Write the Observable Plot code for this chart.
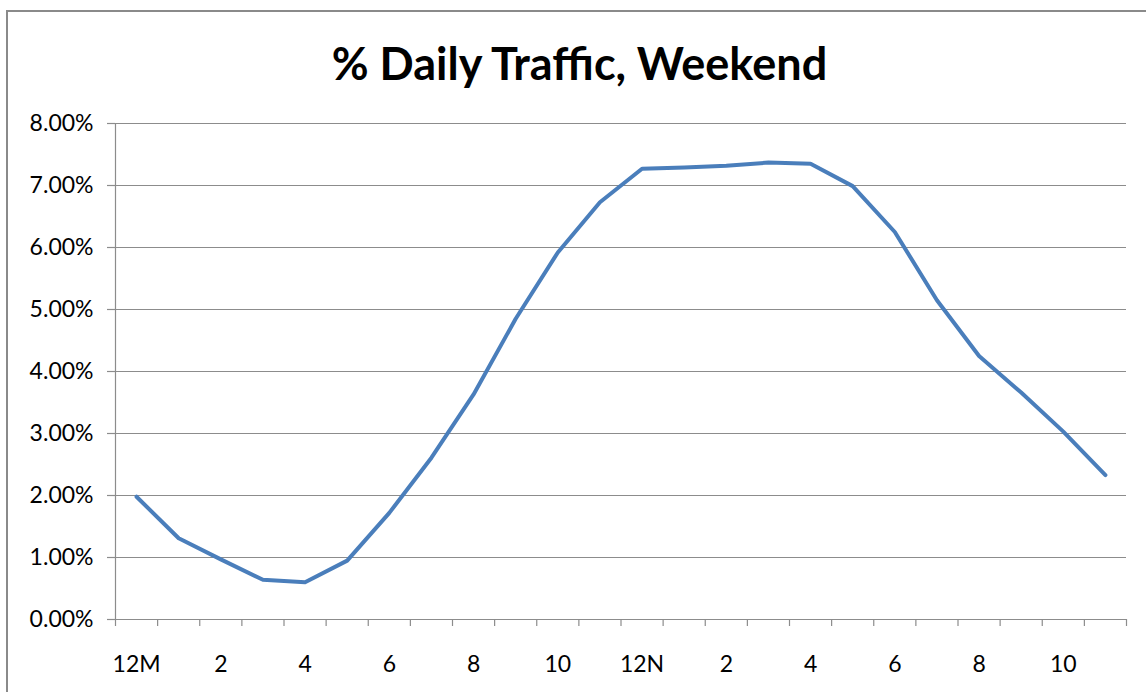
<!DOCTYPE html>
<html>
<head>
<meta charset="utf-8">
<script src="https://cdn.jsdelivr.net/npm/d3@7"></script>
<script src="https://cdn.jsdelivr.net/npm/@observablehq/plot@0.6"></script>
<style>
  html, body { margin: 0; padding: 0; background: #fff; width: 1146px; height: 692px; overflow: hidden; }
  #frame { position: absolute; left: 6px; top: 10px; width: 1160px; height: 700px; border: 2px solid #8a8a8a; box-sizing: border-box; z-index: 2; pointer-events: none; }
  #title { position: absolute; left: 0; top: 37px; width: 1159px; text-align: center; font-family: Lato, "Open Sans", sans-serif; font-weight: bold; font-size: 45px; line-height: 52px; color: #000; }
  #chart { position: absolute; left: 0; top: 100px; }
</style>
</head>
<body>
<div id="frame"></div>
<div id="title">% Daily Traffic, Weekend</div>
<div id="chart"></div>
<script>
const hours = d3.range(0, 24);
const hourLabels = ["12M","1","2","3","4","5","6","7","8","9","10","11","12N","1","2","3","4","5","6","7","8","9","10","11"];
const trafficShare = [0.0198, 0.0131, 0.0097, 0.0064, 0.0060, 0.0095, 0.0172, 0.0261, 0.0363, 0.0485, 0.0592, 0.0673,
                      0.0727, 0.0729, 0.0732, 0.0737, 0.0735, 0.0699, 0.0625, 0.0515, 0.0425, 0.0366, 0.0303, 0.0233];
const yTicks = [0, 0.01, 0.02, 0.03, 0.04, 0.05, 0.06, 0.07, 0.08];

const data = hours.map((h, i) => ({hour: h, label: hourLabels[i], value: trafficShare[i]}));
const labelled = data.filter(d => d.hour % 2 === 0);

const gridColor = "#8c8c8c";
const font = "Lato, 'Open Sans', sans-serif";

const chart = Plot.plot({
  width: 1146,
  height: 592,
  marginTop: 23,
  marginBottom: 73,
  marginLeft: 115,
  marginRight: 20,
  style: {fontFamily: font, fontSize: "23px", color: "#000", background: "transparent"},
  x: {type: "linear", domain: [0, 24], axis: null},
  y: {domain: [0, 0.08], axis: null},
  marks: [
    Plot.gridY(yTicks, {stroke: gridColor, strokeOpacity: 1, strokeWidth: 1.2}),
    Plot.axisY(yTicks, {label: null, tickSize: 8, tickPadding: 14, stroke: gridColor, strokeOpacity: 1, strokeWidth: 1.2, tickFormat: d3.format(".2%"), fill: "#000", fontSize: 23}),
    Plot.ruleX([0], {stroke: gridColor, strokeWidth: 1.2}),
    Plot.axisX(d3.range(0, 25), {label: null, tickSize: 7, stroke: gridColor, strokeOpacity: 1, strokeWidth: 1.2, tickFormat: () => ""}),
    Plot.axisX(labelled.map(d => d.hour + 0.5), {label: null, tickSize: 0, tickPadding: 36, tickFormat: (v) => hourLabels[Math.round(v - 0.5)], fill: "#000", fontSize: 23}),
    Plot.line(data, {x: d => d.hour + 0.5, y: "value", stroke: "#4a7ebb", strokeWidth: 4, strokeLinejoin: "round", strokeLinecap: "round"})
  ]
});
document.getElementById("chart").appendChild(chart);
</script>
</body>
</html>
